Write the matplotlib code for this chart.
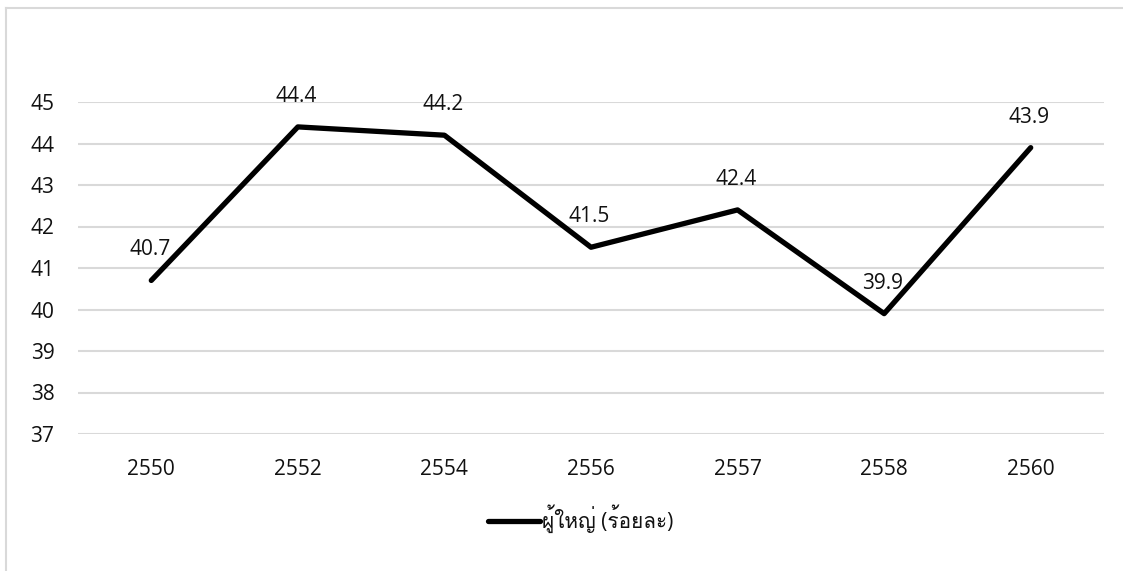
import matplotlib
matplotlib.use("Agg")
import matplotlib.pyplot as plt
from matplotlib import font_manager
from matplotlib.ft2font import FT2Font
from matplotlib.lines import Line2D
import numpy as np

years = ["2550", "2552", "2554", "2556", "2557", "2558", "2560"]
values = [40.7, 44.4, 44.2, 41.5, 42.4, 39.9, 43.9]
series_name = "ผู้ใหญ่ (ร้อยละ)"
yticks = [37, 38, 39, 40, 41, 42, 43, 44, 45]

# find a font that has Thai glyphs
thai_family = None
for f in font_manager.fontManager.ttflist:
    try:
        cm = FT2Font(f.fname).get_charmap()
        if 0x0E1C in cm and 0x0E39 in cm:
            thai_family = f.name
            break
    except Exception:
        pass

base = "Open Sans"
fams = [base] + ([thai_family] if thai_family else []) + ["DejaVu Sans"]
plt.rcParams["font.family"] = fams

FS = 15
TXT = "#111111"

W, H = 1123, 571
fig = plt.figure(figsize=(W / 100, H / 100), dpi=100)
ax = fig.add_axes([78 / W, 1 - 434 / H, (1104 - 78) / W, (434 - 102) / H])

x = np.arange(len(years))
ax.plot(x, values, color="black", lw=3.8, solid_joinstyle="round",
        solid_capstyle="round", label=series_name, zorder=3)
for xi, v in zip(x, values):
    ax.annotate(f"{v:.1f}", (xi, v), xytext=(-1, 22), textcoords="offset points",
                ha="center", va="center", fontsize=FS, color=TXT)

ax.set_xlim(-0.5, len(years) - 0.5)
ax.set_ylim(37, 45)
ax.set_yticks(yticks)
ax.set_xticks(x)
ax.set_xticklabels(years)
ax.tick_params(axis="both", length=0, labelsize=FS, colors=TXT)
ax.tick_params(axis="y", pad=17)
ax.tick_params(axis="x", pad=18)
ax.grid(axis="y", color="#d9d9d9", lw=1.5)
ax.set_axisbelow(True)
for s in ax.spines.values():
    s.set_visible(False)

leg = fig.legend(handles=[Line2D([0], [0], color="black", lw=3.8, solid_capstyle="round")],
                 labels=[series_name], loc="center", bbox_to_anchor=(581 / W, 1 - 519 / H),
                 frameon=False, fontsize=FS, handlelength=2.5, handletextpad=0.1,
                 labelcolor=TXT)

# outer chart border (light gray, top & left visible)
fig.add_artist(Line2D([5.5 / W, 5.5 / W], [0, 1 - 7.5 / H], transform=fig.transFigure,
                      color="#d9d9d9", lw=1.5))
fig.add_artist(Line2D([5.5 / W, 1], [1 - 7.5 / H, 1 - 7.5 / H], transform=fig.transFigure,
                      color="#d9d9d9", lw=1.5))

fig.savefig("out.png", dpi=100)
